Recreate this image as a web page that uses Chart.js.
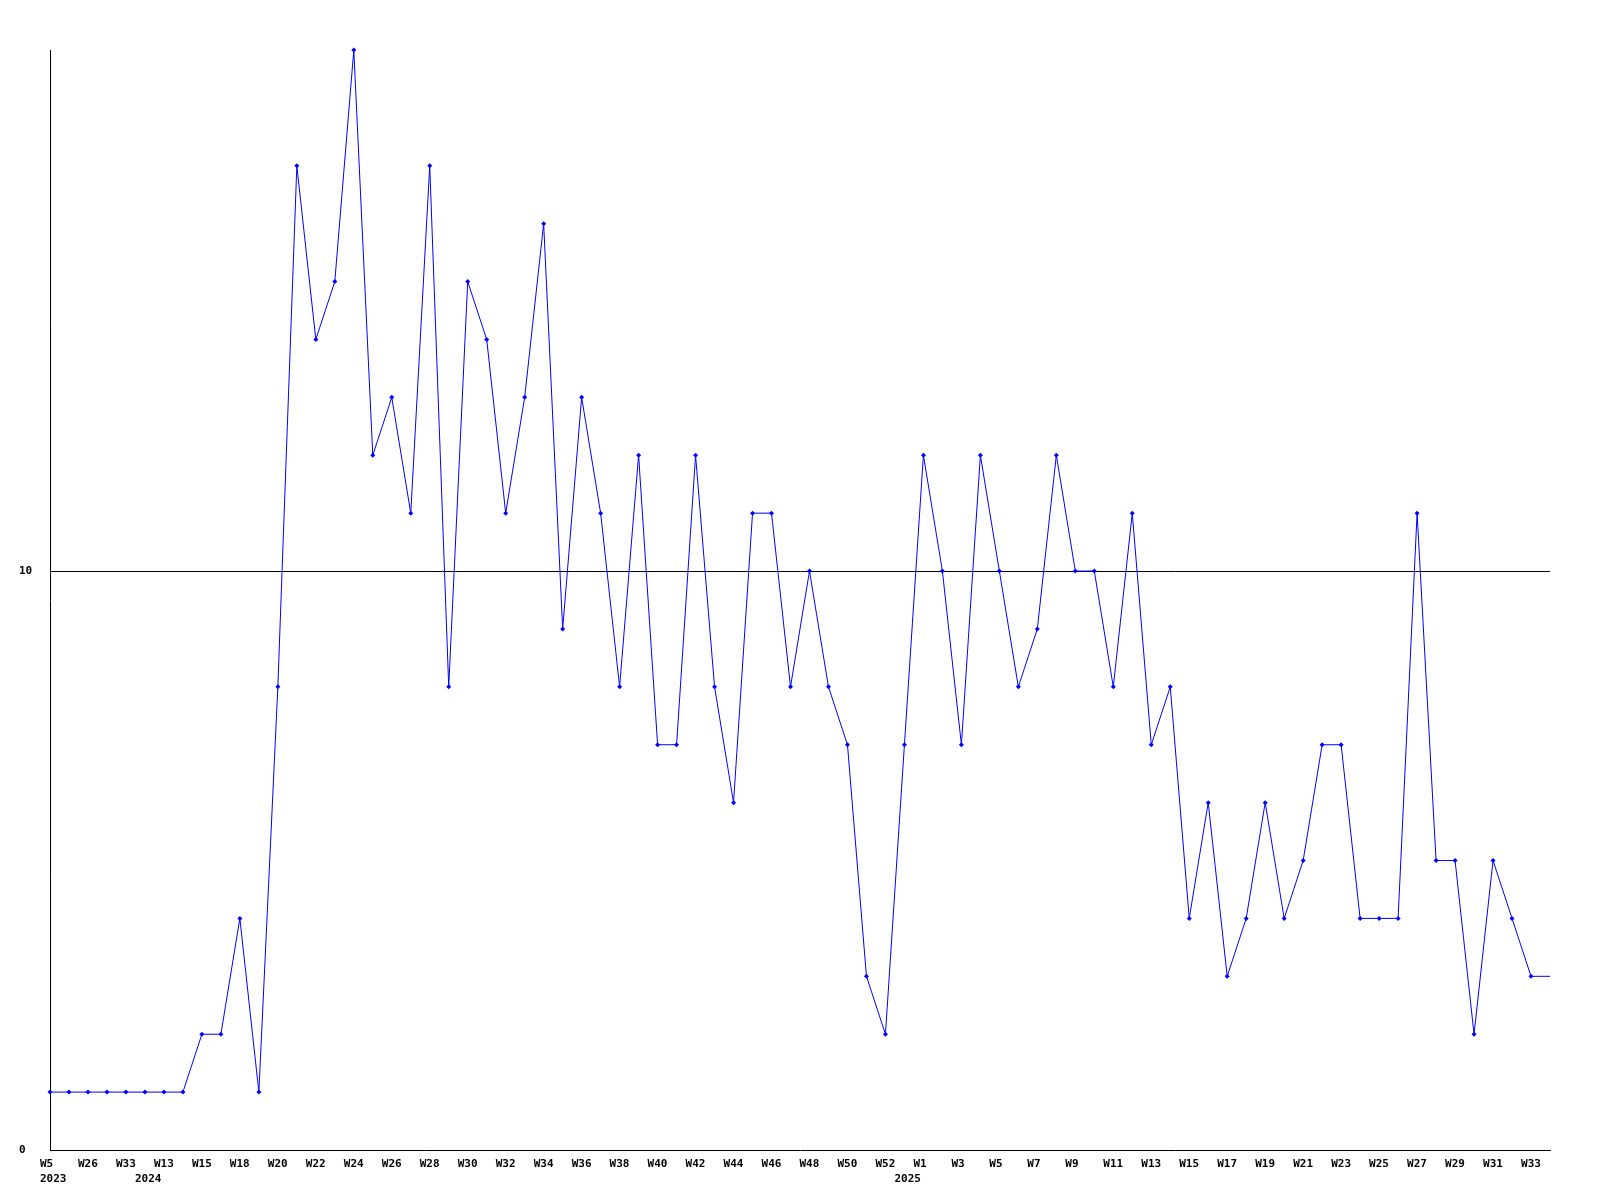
<!DOCTYPE html>
<html>
<head>
<meta charset="utf-8">
<script src="https://cdn.jsdelivr.net/npm/chart.js@4/dist/chart.umd.min.js"></script>
<style>
  html, body { margin: 0; padding: 0; background: #ffffff; }
  #wrap { width: 1600px; height: 1200px; }
</style>
</head>
<body>
<div id="wrap"><canvas id="c" width="1600" height="1200"></canvas></div>
<script>
// Week categories (one per data point)
const weekLabels = [
  'W5','W18','W26','W30','W33','W1','W13','W14','W15','W16',
  'W18','W19','W20','W21','W22','W23','W24','W25','W26','W27',
  'W28','W29','W30','W31','W32','W33','W34','W35','W36','W37',
  'W38','W39','W40','W41','W42','W43','W44','W45','W46','W47',
  'W48','W49','W50','W51','W52','W53','W1','W2','W3','W4',
  'W5','W6','W7','W8','W9','W10','W11','W12','W13','W14',
  'W15','W16','W17','W18','W19','W20','W21','W22','W23','W24',
  'W25','W26','W27','W28','W29','W30','W31','W32','W33','W34'
];
// Year labels shown on the second line, at these category indices
const yearTickIndex = [0, 5, 45];
const yearTickText  = ['2023', '2024', '2025'];

// Series values
const values = [
  1,1,1,1,1,1,1,1,2,2,
  4,1,8,17,14,15,19,12,13,11,
  17,8,15,14,11,13,16,9,13,11,
  8,12,7,7,12,8,6,11,11,8,
  10,8,7,3,2,7,12,10,7,12,
  10,8,9,12,10,10,8,11,7,8,
  4,6,3,4,6,4,5,7,7,4,
  4,4,11,5,5,2,5,4,3,3
];

// Y axis ticks
const yTickValues = [0, 10];
const yMax = 19;

const monoFont = { family: "'DejaVu Sans Mono', 'Liberation Mono', monospace", size: 11, weight: 'bold', lineHeight: '15.5px' };
const lastIndex = values.length - 1;

new Chart(document.getElementById('c'), {
  type: 'line',
  data: {
    labels: weekLabels,
    datasets: [{
      data: values,
      borderColor: '#0000ff',
      backgroundColor: '#0000ff',
      borderWidth: 1,
      tension: 0,
      fill: false,
      pointStyle: 'rectRot',
      pointRadius: ctx => ctx.dataIndex === lastIndex ? 0 : 2.5,
      pointBorderWidth: 0,
      pointBackgroundColor: '#0000ff',
      clip: false
    }]
  },
  options: {
    responsive: false,
    animation: false,
    devicePixelRatio: 1,
    layout: { padding: { left: 19, top: 50, right: 50, bottom: 0 } },
    plugins: { legend: { display: false }, tooltip: { enabled: false } },
    scales: {
      x: {
        offset: false,
        grid: { display: false, drawTicks: false },
        border: { display: true, color: '#000000', width: 1 },
        afterFit: s => { s.height = 50; },
        ticks: {
          autoSkip: false,
          maxRotation: 0,
          minRotation: 0,
          align: 'start',
          labelOffset: -10,
          padding: 6,
          color: '#000000',
          font: monoFont,
          callback: function(value, index) {
            const wk = (index % 2 === 0) ? weekLabels[index] : '';
            const yi = yearTickIndex.indexOf(index);
            if (yi >= 0) return [wk, yearTickText[yi]];
            return wk;
          }
        }
      },
      y: {
        min: 0,
        max: yMax,
        afterBuildTicks: s => { s.ticks = yTickValues.map(v => ({ value: v })); },
        afterFit: s => { s.width = 31; },
        grid: {
          drawTicks: false,
          color: ctx => (ctx.tick && ctx.tick.value === 10) ? '#000000' : 'rgba(0,0,0,0)',
          lineWidth: 1
        },
        border: { display: true, color: '#000000', width: 1 },
        ticks: {
          crossAlign: 'far',
          padding: 0,
          color: '#000000',
          font: monoFont
        }
      }
    }
  }
});
</script>
</body>
</html>
